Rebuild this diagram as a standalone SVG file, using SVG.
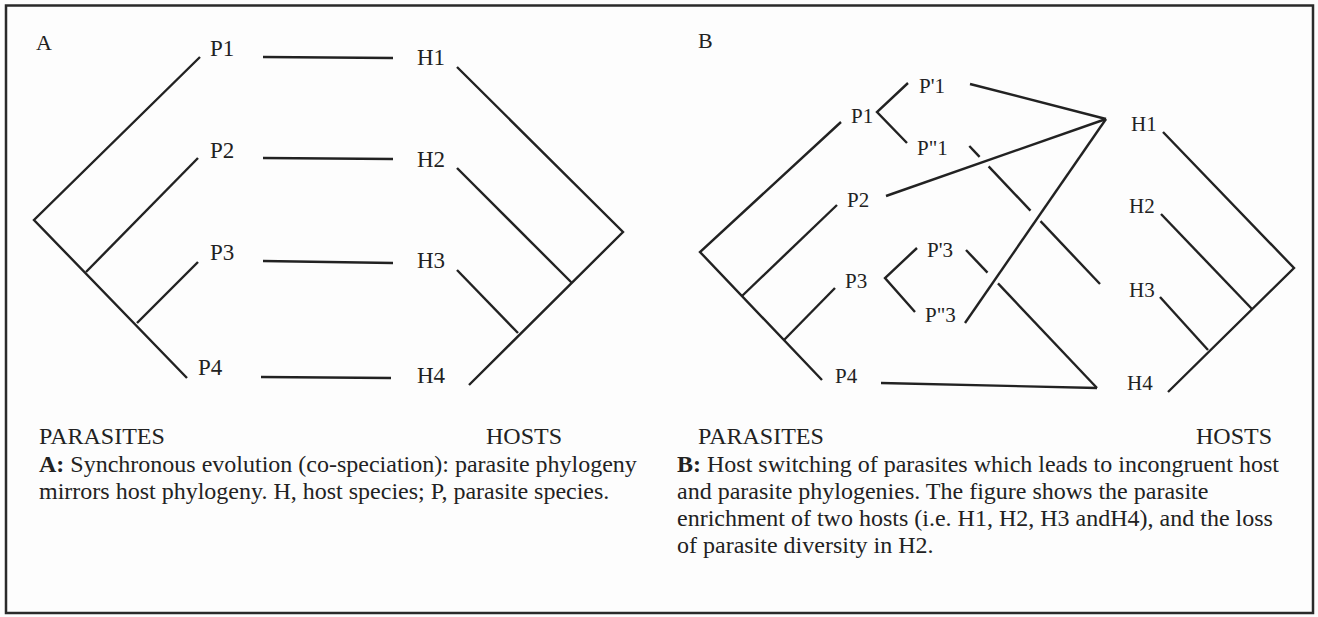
<svg xmlns="http://www.w3.org/2000/svg" width="1318" height="617" viewBox="0 0 1318 617">
<style>
.t{font-family:"Liberation Serif","Times New Roman",serif;fill:#222}
.lbl{font-size:23px}
.lb{font-size:21px}
.cap{font-size:24px}
.ln{stroke:#222;stroke-width:2.4;fill:none;stroke-linecap:butt;stroke-linejoin:miter}
</style>
<rect x="0" y="0" width="1318" height="617" fill="#fdfdfd"/>
<rect x="6" y="5.5" width="1307" height="607.5" fill="none" stroke="#2a2a2a" stroke-width="2.5"/>
<g id="panelA">
<text class="t" x="36" y="50" font-size="22">A</text>
<g id="A-parasite-tree"><polyline class="ln" points="200,57 34,220 187,378"/><line class="ln" x1="86" y1="272" x2="198" y2="158"/><line class="ln" x1="137" y1="323" x2="198" y2="262"/></g>
<g id="A-host-tree"><polyline class="ln" points="457,67 623,232 469,385"/><line class="ln" x1="572" y1="283" x2="457" y2="168"/><line class="ln" x1="518" y1="333" x2="457" y2="270"/></g>
<g id="A-P1"><text class="t lbl" x="210" y="56">P1</text></g>
<g id="A-P2"><text class="t lbl" x="210" y="158">P2</text></g>
<g id="A-P3"><text class="t lbl" x="210" y="260">P3</text></g>
<g id="A-P4"><text class="t lbl" x="198" y="375">P4</text></g>
<g id="A-H1"><text class="t lbl" x="417" y="65">H1</text></g>
<g id="A-H2"><text class="t lbl" x="417" y="167">H2</text></g>
<g id="A-H3"><text class="t lbl" x="417" y="268">H3</text></g>
<g id="A-H4"><text class="t lbl" x="417" y="383">H4</text></g>
<g id="A-connectors">
<line class="ln" x1="263" y1="57" x2="393" y2="58"/>
<line class="ln" x1="263" y1="158" x2="393" y2="159"/>
<line class="ln" x1="263" y1="261" x2="393" y2="263"/>
<line class="ln" x1="261" y1="377" x2="391" y2="378"/>
</g>
<text class="t cap" x="39" y="444">PARASITES</text>
<text class="t cap" x="486" y="444">HOSTS</text>
<text class="t cap" x="39" y="472"><tspan font-weight="bold">A:</tspan> Synchronous evolution (co-speciation): parasite phylogeny</text>
<text class="t cap" x="39" y="499">mirrors host phylogeny. H, host species; P, parasite species.</text>
</g>
<g id="panelB">
<text class="t" x="698" y="48" font-size="22">B</text>
<g id="B-parasite-tree"><polyline class="ln" points="841,122 700,252 822,380"/><line class="ln" x1="742" y1="296" x2="837" y2="205"/><line class="ln" x1="784" y1="340" x2="835" y2="288"/><polyline class="ln" points="908,83 877,112 907,143"/><polyline class="ln" points="917,248 885,278 915,312"/></g>
<g id="B-host-tree"><polyline class="ln" points="1163,132 1294,268 1168,392"/><line class="ln" x1="1252" y1="309" x2="1161" y2="214"/><line class="ln" x1="1208" y1="350" x2="1160" y2="297"/></g>
<g id="B-P1"><text class="t lb" x="851" y="123">P1</text></g>
<g id="B-P1a"><text class="t lb" x="919" y="93">P'1</text></g>
<g id="B-P1b"><text class="t lb" x="917" y="155">P"1</text></g>
<g id="B-P2"><text class="t lb" x="847" y="207">P2</text></g>
<g id="B-P3"><text class="t lb" x="845" y="288">P3</text></g>
<g id="B-P3a"><text class="t lb" x="927" y="257">P'3</text></g>
<g id="B-P3b"><text class="t lb" x="925" y="322">P"3</text></g>
<g id="B-P4"><text class="t lb" x="835" y="383">P4</text></g>
<g id="B-H1"><text class="t lb" x="1131" y="131">H1</text></g>
<g id="B-H2"><text class="t lb" x="1129" y="213">H2</text></g>
<g id="B-H3"><text class="t lb" x="1129" y="297">H3</text></g>
<g id="B-H4"><text class="t lb" x="1127" y="390">H4</text></g>
<g id="B-connectors">
<line class="ln" x1="970" y1="84" x2="1106" y2="119"/>
<line class="ln" x1="886" y1="196" x2="1106" y2="119"/>
<line class="ln" x1="965" y1="323" x2="1106" y2="119"/>
<line class="ln" x1="969.3" y1="146" x2="979.6" y2="156.9"/>
<line class="ln" x1="988.6" y1="166.4" x2="1030.5" y2="210.6"/>
<line class="ln" x1="1040.5" y1="221.2" x2="1100" y2="284"/>
<line class="ln" x1="966" y1="250" x2="987.5" y2="272.7"/>
<line class="ln" x1="998" y1="283.4" x2="1097" y2="388"/>
<line class="ln" x1="881" y1="383" x2="1097" y2="388"/>
</g>
<text class="t cap" x="698" y="444">PARASITES</text>
<text class="t cap" x="1196" y="444">HOSTS</text>
<text class="t cap" x="677" y="472"><tspan font-weight="bold">B:</tspan> Host switching of parasites which leads to incongruent host</text>
<text class="t cap" x="677" y="499">and parasite phylogenies. The figure shows the parasite</text>
<text class="t cap" x="677" y="526">enrichment of two hosts (i.e. H1, H2, H3 andH4), and the loss</text>
<text class="t cap" x="677" y="553">of parasite diversity in H2.</text>
</g>
</svg>
